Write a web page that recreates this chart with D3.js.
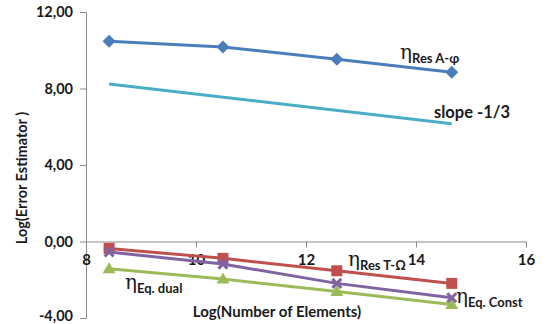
<!DOCTYPE html>
<html><head><meta charset="utf-8">
<script src="https://cdn.jsdelivr.net/npm/d3@7"></script>
<style>body{margin:0;background:#fff}svg{display:block}text{font-family:Lato,"Open Sans",sans-serif;font-weight:bold;fill:#1a1a1a}</style>
</head><body><svg id="c" width="548" height="324"></svg>
<script>
const xValues = [8.42, 10.49, 12.56, 14.65];
const resAphi = [10.47, 10.17, 9.53, 8.85];
const resTOmega = [-0.36, -0.88, -1.53, -2.19];
const eqConst = [-0.55, -1.18, -2.19, -2.94];
const eqDual = [-1.42, -1.96, -2.62, -3.30];
const slopeX = [8.42, 14.65];
const slopeY = [8.24, 6.16];
const xTicks = [8, 10, 12, 14, 16];
const yTicks = [-4, 0, 4, 8, 12];
const yTickLabels = ["-4,00", "0,00", "4,00", "8,00", "12,00"];

const svg = d3.select("#c");
const x = d3.scaleLinear().domain([8, 16]).range([86, 526]);
const y = d3.scaleLinear().domain([-4, 12]).range([318, 12]);
const axisColor = "#8c8c8c";

// y axis
const ya = svg.append("g").attr("transform", "translate(86,0)")
  .call(d3.axisLeft(y).tickValues(yTicks).tickSize(6).tickFormat((d, i) => yTickLabels[i]));
ya.select(".domain").attr("stroke", axisColor);
ya.selectAll(".tick line").attr("stroke", axisColor);
ya.selectAll(".tick text").attr("x", -13).attr("dy", d => d === -4 ? "0.2em" : "0.32em")
  .style("font-size", "14.5px").style("font-family", "Lato").style("font-weight", "bold").attr("fill", "#1a1a1a");

// x axis at y=0
const xa = svg.append("g").attr("transform", `translate(0,${y(0)})`)
  .call(d3.axisBottom(x).tickValues(xTicks).tickSize(6).tickFormat(d3.format("d")));
xa.select(".domain").attr("stroke", axisColor);
xa.selectAll(".tick line").attr("stroke", axisColor);
xa.selectAll(".tick text").attr("y", 13).style("font-size", "15px").style("font-family", "Lato").style("font-weight", "bold").attr("fill", "#1a1a1a");

// axis titles
svg.append("text").attr("transform", "translate(27,178) rotate(-90)").attr("text-anchor", "middle")
  .style("font-size", "14.5px").text("Log(Error Estimator )");
svg.append("text").attr("x", 277).attr("y", 317).attr("text-anchor", "middle")
  .style("font-size", "15px").text("Log(Number of Elements)");

const line = d3.line().x(d => x(d[0])).y(d => y(d[1]));
function series(vals, color, marker) {
  const pts = xValues.map((xv, i) => [xv, vals[i]]);
  svg.append("path").datum(pts).attr("d", line).attr("fill", "none").attr("stroke", color).attr("stroke-width", 3);
  const g = svg.append("g");
  pts.forEach(p => {
    const cx = x(p[0]), cy = y(p[1]);
    if (marker === "diamond") {
      g.append("path").attr("d", `M${cx},${cy-6.5}L${cx+6.5},${cy}L${cx},${cy+6.5}L${cx-6.5},${cy}Z`).attr("fill", color);
    } else if (marker === "square") {
      g.append("rect").attr("x", cx - 5.5).attr("y", cy - 5.5).attr("width", 11).attr("height", 11).attr("fill", color);
    } else if (marker === "x") {
      g.append("path").attr("d", `M${cx-4.5},${cy-4.5}L${cx+4.5},${cy+4.5}M${cx-4.5},${cy+4.5}L${cx+4.5},${cy-4.5}`).attr("stroke", color).attr("stroke-width", 3);
    } else if (marker === "triangle") {
      g.append("path").attr("d", `M${cx},${cy-6.5}L${cx+6.5},${cy+4.5}L${cx-6.5},${cy+4.5}Z`).attr("fill", color);
    }
  });
}

// slope line
svg.append("path").datum(slopeX.map((v, i) => [v, slopeY[i]])).attr("d", line)
  .attr("fill", "none").attr("stroke", "#4bacc6").attr("stroke-width", 3);

series(resAphi, "#4a7ebb", "diamond");
series(resTOmega, "#c0504d", "square");
series(eqDual, "#9bbb59", "triangle");
series(eqConst, "#8064a2", "x");

function eta(xp, yp, sub) {
  const t = svg.append("text").attr("x", xp).attr("y", yp);
  t.append("tspan").style("font-size", "20px").style("font-weight", "normal").style("font-family", "DejaVu Serif").text("η");
  t.append("tspan").attr("dy", 4).style("font-size", "13px").text(sub);
}
eta(400, 59, "Res A-φ");
eta(348, 266, "Res T-Ω");
eta(125, 289, "Eq. dual");
eta(456, 303, "Eq. Const");

svg.append("text").attr("x", 434).attr("y", 118).style("font-size", "16.5px").text("slope -1/3");
</script></body></html>
